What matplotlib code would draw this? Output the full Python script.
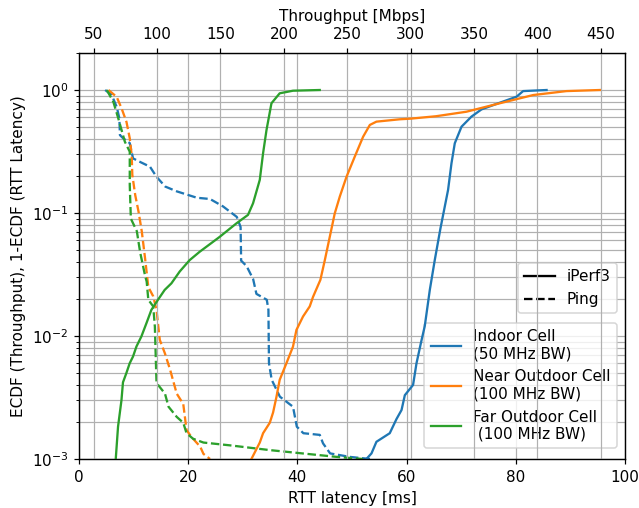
import matplotlib
matplotlib.use("Agg")
import matplotlib.pyplot as plt
from matplotlib.lines import Line2D

# Ping: RTT latency [ms] vs 1-ECDF
ping_indoor_ms = [4.8, 6.0, 6.9, 7.4, 7.5, 8.1, 9.3, 9.9, 11.2, 13.0, 14.2, 15.8, 17.9, 21.6, 24.0,
                  26.4, 28.9, 29.6, 29.7, 30.7, 31.9, 32.5, 34.4, 34.7, 34.8, 35.3, 36.8, 39.2, 39.9,
                  41.1, 44.1, 44.7, 46.0, 49.6, 53.3]
ping_indoor_p = [1.0, 0.91, 0.73, 0.588, 0.43, 0.405, 0.37, 0.278, 0.26, 0.238, 0.197, 0.164, 0.15,
                 0.133, 0.13, 0.113, 0.093, 0.077, 0.041, 0.037, 0.029, 0.022, 0.0197, 0.0163, 0.006,
                 0.0044, 0.00321, 0.00266, 0.00183, 0.00162, 0.00157, 0.00134, 0.00111, 0.00104, 0.001]

ping_near_ms = [5.4, 6.9, 7.8, 8.7, 9.3, 9.65, 9.77, 10.3, 10.9, 11.5, 12.1, 12.7, 13.6, 14.2, 14.8,
                15.75, 16.7, 17.9, 19.1, 19.7, 20.6, 22.2, 22.8, 24.0]
ping_near_p = [1.0, 0.88, 0.71, 0.55, 0.405, 0.296, 0.204, 0.14, 0.103, 0.071, 0.043, 0.025, 0.021,
               0.0163, 0.0093, 0.0072, 0.0053, 0.0034, 0.0028, 0.00172, 0.00151, 0.00126, 0.0011, 0.001]

ping_far_ms = [5.1, 6.3, 7.2, 8.4, 9.3, 9.3, 9.5, 10.6, 11.2, 12.1, 12.4, 12.7, 13.6, 13.9, 14.2,
               15.75, 16.4, 17.9, 19.1, 19.7, 20.9, 22.8, 27.7, 35.0, 47.2, 52.0]
ping_far_p = [1.0, 0.80, 0.588, 0.38, 0.315, 0.169, 0.09, 0.071, 0.048, 0.031, 0.0277, 0.0197, 0.0174,
              0.0119, 0.00415, 0.0034, 0.00266, 0.0022, 0.00197, 0.00162, 0.00146, 0.00136, 0.00129,
              0.00118, 0.00104, 0.001]

# iPerf3: throughput [Mbps] vs ECDF
iperf_indoor_mbps = [265.1, 269.1, 273.0, 283.5, 288.8, 292.8, 295.4, 301.9, 304.6, 308.0, 311.1,
                     312.5, 315.1, 319.0, 323.5, 329.5, 332.2, 334.8, 340.1, 347.9, 355.9, 370.3,
                     383.5, 388.7, 407.2]
iperf_indoor_p = [0.001, 0.00111, 0.00138, 0.00162, 0.00211, 0.0025, 0.0033, 0.004, 0.006, 0.0087,
                  0.012, 0.0152, 0.0237, 0.0414, 0.075, 0.154, 0.254, 0.369, 0.503, 0.607, 0.696,
                  0.788, 0.882, 0.98, 1.0]

iperf_near_mbps = [174.4, 181.0, 183.6, 188.9, 191.5, 194.1, 196.7, 202.0, 207.2, 209.9, 215.1,
                   220.4, 223.0, 228.8, 232.3, 236.2, 240.1, 244.1, 249.4, 255.9, 262.5, 267.8,
                   273.0, 291.4, 300.0, 320.0, 344.0, 370.3, 396.6, 422.9, 449.2]
iperf_near_p = [0.001, 0.00136, 0.00162, 0.00197, 0.00239, 0.00318, 0.0044, 0.006, 0.0082, 0.0112,
                0.0144, 0.0174, 0.0208, 0.0286, 0.0414, 0.064, 0.099, 0.136, 0.197, 0.287, 0.417,
                0.52, 0.553, 0.578, 0.585, 0.612, 0.666, 0.78, 0.91, 0.98, 1.0]

iperf_far_mbps = [67.4, 69.2, 71.9, 73.1, 75.8, 78.4, 81.0, 83.7, 87.6, 91.6, 95.5, 100.7, 106.0,
                  111.3, 117.9, 125.7, 133.6, 149.4, 162.6, 171.7, 175.7, 181.0, 183.6, 186.3,
                  190.2, 196.7, 207.2, 228.3]
iperf_far_p = [0.001, 0.00183, 0.003, 0.0042, 0.005, 0.006, 0.0068, 0.0082, 0.0099, 0.0127, 0.0163,
               0.0197, 0.0237, 0.0268, 0.0335, 0.0414, 0.0484, 0.064, 0.0824, 0.0965, 0.12, 0.186,
               0.306, 0.473, 0.78, 0.94, 0.987, 1.0]

labels = ["Indoor Cell\n(50 MHz BW)", "Near Outdoor Cell\n(100 MHz BW)", "Far Outdoor Cell\n (100 MHz BW)"]
colors = ["tab:blue", "tab:orange", "tab:green"]

fig, ax = plt.subplots(figsize=(639 / 110, 508 / 110), dpi=110)
fig.subplots_adjust(left=0.1236, right=0.978, top=0.8957, bottom=0.0965)

ax.plot(ping_indoor_ms, ping_indoor_p, "--", color=colors[0])
ax.plot(ping_near_ms, ping_near_p, "--", color=colors[1])
ax.plot(ping_far_ms, ping_far_p, "--", color=colors[2])
ax.set_yscale("log")
ax.set_ylim(1e-3, 2)
ax.set_xlim(0, 100)
ax.set_xlabel("RTT latency [ms]")
ax.set_ylabel("ECDF (Throughput), 1-ECDF (RTT Latency)")
ax.grid(which="both")

style_handles = [Line2D([], [], color="black", linestyle="-"),
                 Line2D([], [], color="black", linestyle="--")]
leg1 = ax.legend(style_handles, ["iPerf3", "Ping"], loc="lower right",
                 bbox_to_anchor=(0.9853, 0.3596), borderaxespad=0)
ax.add_artist(leg1)
color_handles = [Line2D([], [], color=c) for c in colors]
ax.legend(color_handles, labels, loc="lower right",
          bbox_to_anchor=(0.9853, 0.027), borderaxespad=0)

ax2 = ax.twiny()
ax2.plot(iperf_indoor_mbps, iperf_indoor_p, "-", color=colors[0])
ax2.plot(iperf_near_mbps, iperf_near_p, "-", color=colors[1])
ax2.plot(iperf_far_mbps, iperf_far_p, "-", color=colors[2])
ax2.set_xlim(38.4, 469)
ax2.set_xlabel("Throughput [Mbps]")
ax2.grid(axis="x")

fig.savefig("out.png", dpi=110)
